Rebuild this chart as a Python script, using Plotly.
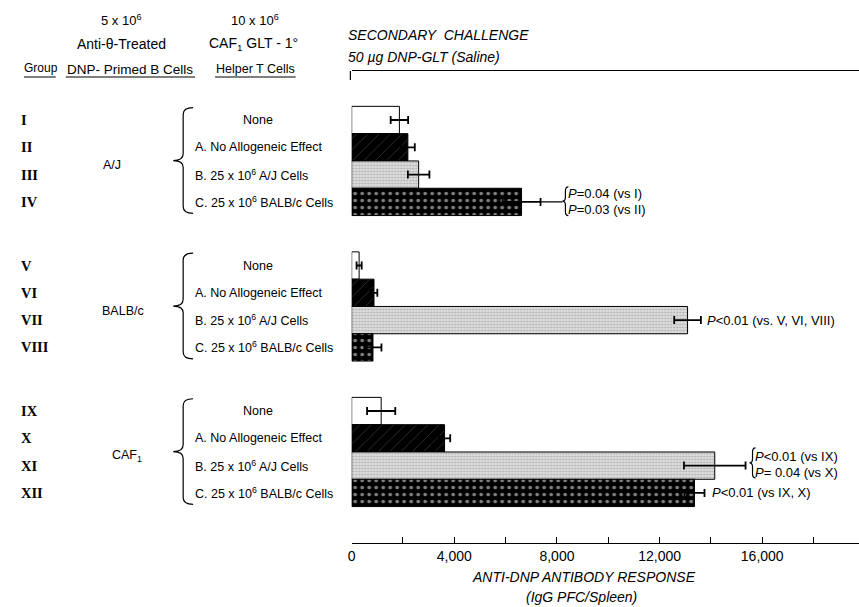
import plotly.graph_objects as go

# ---------------- data ----------------
roman = [["I", "II", "III", "IV"],
         ["V", "VI", "VII", "VIII"],
         ["IX", "X", "XI", "XII"]]
strains = ["A/J", "BALB/c", "CAF<sub>1</sub>"]
treatments = ["None", "A. No Allogeneic Effect",
              "B. 25 x 10<sup>6</sup> A/J Cells",
              "C. 25 x 10<sup>6</sup> BALB/c Cells"]

resp_none = [1860, 290, 1150]
err_none = [340, 100, 550]
resp_noallo = [2190, 870, 3620]
err_noallo = [270, 130, 220]
resp_aj = [2610, 13090, 14150]
err_aj = [420, 520, 1200]
resp_balbc = [6620, 830, 13360]
err_balbc = [740, 330, 390]

tick_vals = [0, 4000, 8000, 12000, 16000]
tick_text = ["0", "4,000", "8,000", "12,000", "16,000"]
minor_tick_vals = [2000, 6000, 10000, 14000, 18000]

p_text_IV = ["<i>P</i>=0.04 (vs I)", "<i>P</i>=0.03 (vs II)"]
p_text_VII = "<i>P</i>&lt;0.01 (vs. V, VI, VIII)"
p_text_XI = ["<i>P</i>&lt;0.01 (vs IX)", "<i>P</i>= 0.04 (vs X)"]
p_text_XII = "<i>P</i>&lt;0.01 (vs IX, X)"

# ---------------- geometry helpers ----------------
W, H = 859, 607
GAP = 5.33              # row slots per group (4 rows + spacing)
X0_PX, PX_PER_K = 349.3, 25.78
ROW0_PX, ROW_PX = 120.0, 27.3
AX_BOTTOM_PX, AX_TOP_PX = 543, 71

def pos(g, i):
    return g * GAP + i

def px2pos(py):
    return (py - ROW0_PX) / ROW_PX

def px2x(px):
    return (px - X0_PX) / PX_PER_K * 1000

def px(pxv):
    return pxv / W

def py(pyv):
    return 1 - pyv / H

FONT = "Liberation Sans Narrow, Arial Narrow, Liberation Sans, sans-serif"
SERIF = "Liberation Serif, DejaVu Serif, serif"

styles = [
    dict(color="white", pattern=None),
    dict(color="black", pattern=dict(shape="/", fgcolor="#8a8a8a", bgcolor="black",
                                     size=8, solidity=0.08, fillmode="overlay")),
    dict(color="#e0e0e0", pattern=dict(shape=".", fgcolor="#808080", bgcolor="#e0e0e0",
                                       size=3, solidity=0.4, fillmode="overlay")),
    dict(color="black", pattern=dict(shape=".", fgcolor="white", bgcolor="black",
                                     size=7, solidity=0.22, fillmode="overlay")),
]

values = [resp_none, resp_noallo, resp_aj, resp_balbc]
errors = [err_none, err_noallo, err_aj, err_balbc]

fig = go.Figure()
for t in range(4):
    marker = dict(color=styles[t]["color"], line=dict(color="black", width=1))
    if styles[t]["pattern"]:
        marker["pattern"] = styles[t]["pattern"]
    fig.add_trace(go.Bar(
        y=[pos(g, t) for g in range(3)], x=values[t], orientation="h",
        width=1, marker=marker, name=treatments[t],
        error_x=dict(type="data", array=errors[t], color="black",
                     thickness=1.8, width=4),
        hoverinfo="x",
    ))

ann = []
shapes = []

def text(x, y, s, xref="paper", yref="paper", size=12.5, anchor="left",
         family=FONT, italic=False, weight="normal"):
    ann.append(dict(x=x, y=y, xref=xref, yref=yref, text=s, showarrow=False,
                    xanchor=anchor, yanchor="middle",
                    font=dict(family=family, size=size, color="black", weight=weight,
                              style="italic" if italic else "normal")))

# header texts
text(px(18), py(68), "Group", size=12)
text(px(118), py(20), "5 x 10<sup>6</sup>", anchor="center", size=13)
text(px(118), py(44), "Anti-θ-Treated", anchor="center", size=14)
text(px(127), py(69), "DNP- Primed B Cells", anchor="center", size=13.5)
text(px(252), py(20), "10 x 10<sup>6</sup>", anchor="center", size=13)
text(px(251), py(44), "CAF<sub>1</sub> GLT - 1°", anchor="center", size=14)
text(px(253), py(69), "Helper T Cells", anchor="center", size=12.5)
text(px(344), py(35), "SECONDARY  CHALLENGE", size=14, italic=True)
text(px(344), py(57), "50 µg DNP-GLT (Saline)", size=14, italic=True)

for (a, b) in [(20, 52), (62, 192), (212, 293)]:
    shapes.append(dict(type="line", xref="paper", yref="paper",
                       x0=px(a), x1=px(b), y0=py(77), y1=py(77),
                       line=dict(color="black", width=1.2)))
shapes.append(dict(type="line", xref="paper", yref="paper",
                   x0=px(348), x1=px(348), y0=py(71), y1=py(80),
                   line=dict(color="black", width=1.2)))

# left columns
strain_x = [97, 96, 106]
for g in range(3):
    for i in range(4):
        text(px(15), pos(g, i), "<b>" + roman[g][i] + "</b>", yref="y",
             size=14.5, family=SERIF)
        if i == 0:
            text(px(255), pos(g, i), treatments[i], yref="y", anchor="center")
        else:
            text(px(190), pos(g, i), treatments[i], yref="y")
    text(px(strain_x[g]), pos(g, 1.5) + 0.15, strains[g], yref="y")

def brace(x_tip, x_end, y0, y1, xref, r):
    xm = (x_tip + x_end) / 2
    ym = (y0 + y1) / 2
    path = (f"M {x_end},{y0} Q {xm},{y0} {xm},{y0 + r} L {xm},{ym - r} "
            f"Q {xm},{ym} {x_tip},{ym} Q {xm},{ym} {xm},{ym + r} "
            f"L {xm},{y1 - r} Q {xm},{y1} {x_end},{y1}")
    shapes.append(dict(type="path", path=path, xref=xref, yref="y",
                       line=dict(color="black", width=1.2)))

for g in range(3):
    brace(px(170), px(190), pos(g, 0) - 0.45, pos(g, 3) + 0.42, "paper", 0.25)

# P-value annotations
u = 1000 / PX_PER_K   # data units per pixel
# group IV
xe = resp_balbc[0] + err_balbc[0]
yIV = pos(0, 3)
shapes.append(dict(type="line", xref="x", yref="y", x0=xe, x1=xe + 22 * u,
                   y0=yIV, y1=yIV, line=dict(color="black", width=1.2)))
brace(xe + 22 * u, xe + 28 * u, yIV - 0.55, yIV + 0.5, "x", 0.15)
text(xe + 26 * u, yIV - 0.3, p_text_IV[0], xref="x", yref="y", size=13)
text(xe + 26 * u, yIV + 0.28, p_text_IV[1], xref="x", yref="y", size=13)
# group VII
xe = resp_aj[1] + err_aj[1]
text(xe + 4 * u, pos(1, 2), p_text_VII, xref="x", yref="y", size=13)
# group XI
xe = resp_aj[2] + err_aj[2]
yXI = pos(2, 2)
brace(xe + 4 * u, xe + 10 * u, yXI - 0.65, yXI + 0.45, "x", 0.15)
text(xe + 7 * u, yXI - 0.35, p_text_XI[0], xref="x", yref="y", size=13)
text(xe + 7 * u, yXI + 0.27, p_text_XI[1], xref="x", yref="y", size=13)
# group XII
xe = resp_balbc[2] + err_balbc[2]
text(xe + 6 * u, pos(2, 3), p_text_XII, xref="x", yref="y", size=13)

# axis title
text(px(583), py(577), "ANTI-DNP ANTIBODY RESPONSE", anchor="center", size=14, italic=True)
text(px(580), py(597), "(IgG PFC/Spleen)", anchor="center", size=14, italic=True)

fig.update_layout(
    width=W, height=H, margin=dict(l=0, r=0, t=0, b=0),
    paper_bgcolor="white", plot_bgcolor="white", showlegend=False,
    barmode="overlay", annotations=ann, shapes=shapes,
    xaxis=dict(domain=[X0_PX / W, 1], range=[0, px2x(W)],
               showline=True, linecolor="black", linewidth=1.2, mirror=True,
               ticks="inside", ticklen=6, tickcolor="black", tickwidth=1.2,
               tickvals=tick_vals, ticktext=tick_text, showgrid=False,
               minor=dict(tickvals=minor_tick_vals, ticks="inside", ticklen=6,
                          tickcolor="black", tickwidth=1.2, showgrid=False),
               zeroline=False, tickfont=dict(family=FONT, size=14, color="black")),
    yaxis=dict(domain=[1 - AX_BOTTOM_PX / H, 1 - AX_TOP_PX / H],
               range=[px2pos(AX_BOTTOM_PX), px2pos(AX_TOP_PX)], visible=False),
)

fig.write_html("out.html", config={"displayModeBar": False},
               post_script="document.body.style.margin='0px';")
